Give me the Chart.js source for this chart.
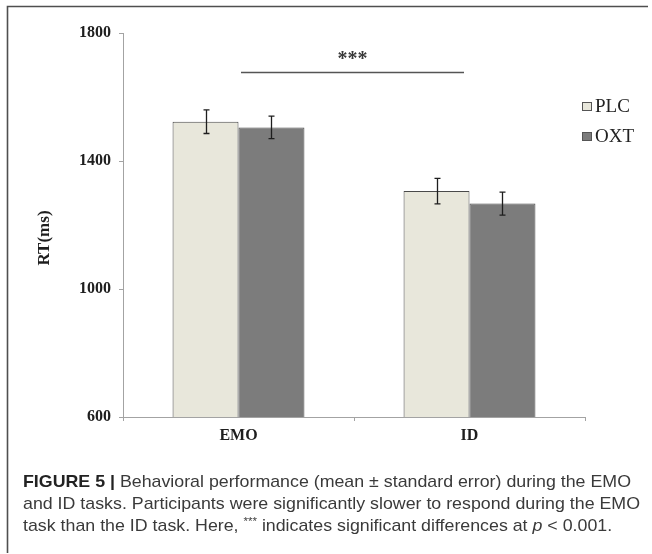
<!DOCTYPE html>
<html>
<head>
<meta charset="utf-8">
<script src="https://cdn.jsdelivr.net/npm/chart.js@4.4.1/dist/chart.umd.min.js"></script>
<style>
  html, body { margin: 0; padding: 0; background: #ffffff; }
  #wrap { position: relative; width: 652px; height: 554px; }
</style>
</head>
<body>
<div id="wrap"><canvas id="c" width="652" height="554"></canvas></div>
<script>
// Task categories and condition groups
const categories = ['EMO', 'ID'];
const seriesNames = ['PLC', 'OXT'];

// Mean reaction times (ms) and standard errors per task
const plcMeans = [1523, 1306];
const oxtMeans = [1505, 1267];
const plcErrors = [37, 40];
const oxtErrors = [35, 36];

// Y axis ticks and labels
const yTicks = [600, 1000, 1400, 1800];
const yTitle = 'RT(ms)';

// Significance bracket between the two tasks
const sigLabel = '***';
const sigLevel = 1678;

// Figure caption
const captionHead = 'FIGURE 5 | ';
const captionLine1 = 'Behavioral performance (mean \u00b1 standard error) during the EMO';
const captionLine2 = 'and ID tasks. Participants were significantly slower to respond during the EMO';
const captionLine3a = 'task than the ID task. Here, ';
const captionLine3b = ' indicates significant differences at ';
const captionLine3c = ' < 0.001.';

const fills = ['#e8e7db', '#7c7c7c'];
const edge = '#4a4a4a';
const serif = '"Liberation Serif", "Times New Roman", serif';
const sans = '"Liberation Sans", Arial, sans-serif';

const errorSets = [plcErrors, oxtErrors];

const decorations = {
  id: 'decorations',
  afterDatasetsDraw(chart) {
    const ctx = chart.ctx;
    const xs = chart.scales.x;
    const ys = chart.scales.y;
    const area = chart.chartArea;

    // error bars
    ctx.save();
    ctx.strokeStyle = '#1e1e1e';
    ctx.lineWidth = 1.3;
    chart.data.datasets.forEach((ds, i) => {
      const meta = chart.getDatasetMeta(i);
      meta.data.forEach((bar, j) => {
        const v = ds.data[j];
        const e = errorSets[i][j];
        const x = Math.round(bar.x) + 0.5;
        const yt = ys.getPixelForValue(v + e);
        const yb = ys.getPixelForValue(v - e);
        ctx.beginPath();
        ctx.moveTo(x, yt); ctx.lineTo(x, yb);
        ctx.moveTo(x - 3, yt); ctx.lineTo(x + 3, yt);
        ctx.moveTo(x - 3, yb); ctx.lineTo(x + 3, yb);
        ctx.stroke();
      });
    });
    ctx.restore();

    // significance bracket
    ctx.save();
    const x0 = xs.getPixelForValue(0) + 2.5;
    const x1 = xs.getPixelForValue(1) - 5.5;
    const yl = Math.round(ys.getPixelForValue(sigLevel)) + 0.5;
    ctx.strokeStyle = '#555555';
    ctx.lineWidth = 1.5;
    ctx.beginPath();
    ctx.moveTo(x0, yl); ctx.lineTo(x1, yl);
    ctx.stroke();
    ctx.fillStyle = '#3a3a3a';
    ctx.font = 'bold 20px ' + serif;
    ctx.textAlign = 'center';
    ctx.textBaseline = 'alphabetic';
    ctx.fillText(sigLabel, (x0 + x1) / 2, yl - 8);
    ctx.restore();

    // legend
    ctx.save();
    ctx.font = '19px ' + serif;
    ctx.textBaseline = 'alphabetic';
    ctx.textAlign = 'left';
    const lx = area.right - 3;
    seriesNames.forEach((name, i) => {
      const top = 102 + i * 30;
      ctx.fillStyle = fills[i];
      ctx.fillRect(lx, top, 10, 9);
      ctx.strokeStyle = '#555555';
      ctx.lineWidth = 1;
      ctx.strokeRect(lx + 0.5, top + 0.5, 9, 8);
      ctx.fillStyle = '#222222';
      ctx.fillText(name, lx + 13, top + 10);
    });
    ctx.restore();

    // y axis title
    ctx.save();
    ctx.translate(45, 238);
    ctx.rotate(-Math.PI / 2);
    ctx.font = 'bold 17px ' + serif;
    ctx.fillStyle = '#1e1e1e';
    ctx.textAlign = 'center';
    ctx.textBaseline = 'middle';
    ctx.fillText(yTitle, 0, 0);
    ctx.restore();

    // frame
    ctx.save();
    ctx.strokeStyle = '#4f4f4f';
    ctx.lineWidth = 1.6;
    ctx.beginPath();
    ctx.moveTo(648, 6.5); ctx.lineTo(7.5, 6.5); ctx.lineTo(7.5, 553);
    ctx.stroke();
    ctx.restore();

    // caption
    ctx.save();
    const cx = 23;
    const regular = '17px ' + sans;
    const bold = 'bold 17px ' + sans;
    ctx.font = regular;
    const sx = 617 / ctx.measureText(captionLine2).width;
    ctx.translate(cx, 0);
    ctx.scale(sx, 1);
    ctx.textBaseline = 'alphabetic';
    ctx.textAlign = 'left';
    const grey = '#3a3a3a';
    // line 1
    ctx.font = bold;
    ctx.fillStyle = '#222222';
    ctx.fillText(captionHead, 0, 487);
    let w = ctx.measureText(captionHead).width;
    ctx.font = regular;
    ctx.fillStyle = grey;
    ctx.fillText(captionLine1, w, 487);
    // line 2
    ctx.fillText(captionLine2, 0, 509);
    // line 3
    let x = 0;
    ctx.fillText(captionLine3a, x, 531);
    x += ctx.measureText(captionLine3a).width;
    ctx.font = '11px ' + sans;
    ctx.fillText(sigLabel, x, 525);
    x += ctx.measureText(sigLabel).width;
    ctx.font = regular;
    ctx.fillText(captionLine3b, x, 531);
    x += ctx.measureText(captionLine3b).width;
    ctx.font = 'italic 17px ' + sans;
    ctx.fillText('p', x, 531);
    x += ctx.measureText('p').width;
    ctx.font = regular;
    ctx.fillText(captionLine3c, x, 531);
    ctx.restore();
  }
};

new Chart(document.getElementById('c'), {
  type: 'bar',
  data: {
    labels: categories,
    datasets: [
      { label: seriesNames[0], data: plcMeans, backgroundColor: fills[0], borderColor: edge, borderWidth: 1, categoryPercentage: 0.571, barPercentage: 1.0 },
      { label: seriesNames[1], data: oxtMeans, backgroundColor: fills[1], borderColor: edge, borderWidth: 1, categoryPercentage: 0.571, barPercentage: 1.0 }
    ]
  },
  options: {
    responsive: false,
    devicePixelRatio: 1,
    animation: false,
    layout: { padding: { left: 0, right: 67, top: 33, bottom: 0 } },
    plugins: { legend: { display: false }, tooltip: { enabled: false } },
    scales: {
      x: {
        grid: { offset: true, drawOnChartArea: false, drawTicks: true, tickLength: 4, color: '#a3a3a3' },
        border: { color: '#a3a3a3', width: 1 },
        ticks: { font: { family: serif, size: 16, weight: 'bold' }, color: '#1e1e1e', padding: 5 },
        afterFit(scale) { scale.height = 137; }
      },
      y: {
        min: 600,
        max: 1800,
        afterBuildTicks(scale) { scale.ticks = yTicks.map(v => ({ value: v })); },
        grid: { drawOnChartArea: false, drawTicks: true, tickLength: 4, color: '#a3a3a3' },
        border: { color: '#a3a3a3', width: 1 },
        ticks: { font: { family: serif, size: 16, weight: 'bold' }, color: '#1e1e1e', padding: 8, callback: v => String(v) },
        afterFit(scale) { scale.width = 123; }
      }
    }
  },
  plugins: [decorations]
});
</script>
</body>
</html>
